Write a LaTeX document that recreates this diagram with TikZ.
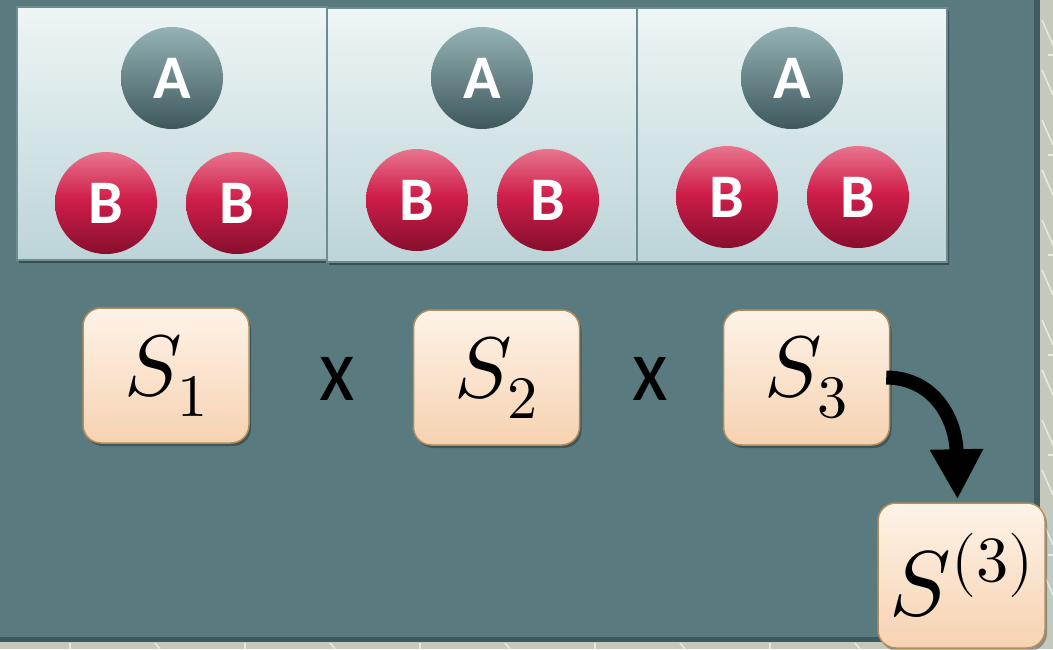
\documentclass[tikz,border=0pt]{standalone}
\usepackage{fontspec}
\usepackage{unicode-math}
\setmathfont{Latin Modern Math}
\newfontfamily\calib{Carlito}
\usetikzlibrary{arrows.meta,shadows}
\definecolor{outerbg}{HTML}{C5C9BC}
\definecolor{tealbg}{HTML}{597B80}
\definecolor{tealdark}{HTML}{3F5A5E}
\definecolor{paneltop}{HTML}{EEF5F5}
\definecolor{panelbot}{HTML}{BCD4D8}
\definecolor{panelline}{HTML}{6C8C91}
\definecolor{atop}{HTML}{94B2B5}
\definecolor{abot}{HTML}{3E585C}
\definecolor{btop}{HTML}{E8758E}
\definecolor{bmid}{HTML}{CF1E4A}
\definecolor{bbot}{HTML}{870E2D}
\definecolor{stop}{HTML}{FEF3E8}
\definecolor{sbot}{HTML}{F6D2B1}
\definecolor{sline}{HTML}{B48D5C}
\pgfdeclareverticalshading{bshade}{100bp}{color(0bp)=(bbot); color(25bp)=(bbot); color(52bp)=(bmid); color(75bp)=(btop); color(100bp)=(btop)}
\tikzset{
  panel/.style={draw=panelline, line width=1.2pt, top color=paneltop, bottom color=panelbot, shading=axis,
    drop shadow={shadow xshift=2pt, shadow yshift=-3pt, opacity=0.35, fill=black}},
  atom/.style={circle, minimum size=102pt, inner sep=0pt, text=white, font=\calib\bfseries\fontsize{62}{62}\selectfont},
  aatom/.style={atom, top color=atop, bottom color=abot, shading=axis},
  batom/.style={atom, shading=bshade},
  sbox/.style={draw=sline, line width=1.5pt, rounded corners=18pt, top color=stop, bottom color=sbot, shading=axis,
    minimum width=166pt, minimum height=135pt, inner sep=0pt, font=\fontsize{86}{86}\selectfont,
    drop shadow={shadow xshift=2pt, shadow yshift=-3pt, opacity=0.3, fill=black}},
  times/.style={font=\calib\fontsize{82}{82}\selectfont, inner sep=0pt}
}
\begin{document}
\begin{tikzpicture}[x=1pt,y=-1pt]
\useasboundingbox (0,0) rectangle (1053,649);
% background
\fill[outerbg] (0,0) rectangle (1053,649);
\begin{scope}[white, opacity=0.6, line width=1.5pt]
  \foreach \yy in {0,100,200,300,400,500}{
    \draw (1042,\yy+20) -- (1053,\yy+45);
    \draw (1042,\yy+70) -- (1053,\yy+95);
    \draw (1048,\yy+55) -- (1053,\yy+55);
  }
  \foreach \xx in {0,175,350,525,700,875}{
    \draw (\xx+70,643) -- (\xx+70,649);
    \draw (\xx+155,643) -- (\xx+160,649);
  }
\end{scope}
\fill[tealdark] (0,0) rectangle (1040,642);
\fill[tealbg] (0,0) rectangle (1034,637);
% panels
\node[panel, minimum width=310pt, minimum height=253pt, inner sep=0pt] (p1) at (172,133.5) {};
\node[panel, minimum width=310pt, minimum height=254pt, inner sep=0pt] (p2) at (482,135) {};
\node[panel, minimum width=310pt, minimum height=254pt, inner sep=0pt] (p3) at (792,135) {};
% atoms
\node[aatom] (a1) at (172,78) {A};
\node[batom] (b11) at (106,203) {B};
\node[batom] (b12) at (237,203) {B};
\node[aatom] (a2) at (482,78) {A};
\node[batom] (b21) at (417,200) {B};
\node[batom] (b22) at (548,200) {B};
\node[aatom] (a3) at (792,78) {A};
\node[batom] (b31) at (727,197) {B};
\node[batom] (b32) at (858,197) {B};
% S boxes
\node[sbox] (s1) at (166,375.5) {$S_1$};
\node[times] (x1) at (337,379) {\scalebox{1}[1.1]{x}};
\node[sbox] (s2) at (496.5,377.5) {$S_2$};
\node[times] (x2) at (650,379) {\scalebox{1}[1.1]{x}};
\node[sbox] (s3) at (806.5,377.5) {$S_3$};
\node[sbox, minimum width=167pt, minimum height=145pt, font=\fontsize{92}{92}\selectfont] (sc) at (961.5,575.5) {\raisebox{-8pt}{$S^{(3)}$}};
% arrow
\draw[line width=14pt, -{Triangle[width=50pt,length=50pt]}]
  ([xshift=-4pt]s3.east) .. controls (935,378) and (956,420) .. ([xshift=-4pt,yshift=3pt]sc.north);
\end{tikzpicture}
\end{document}
